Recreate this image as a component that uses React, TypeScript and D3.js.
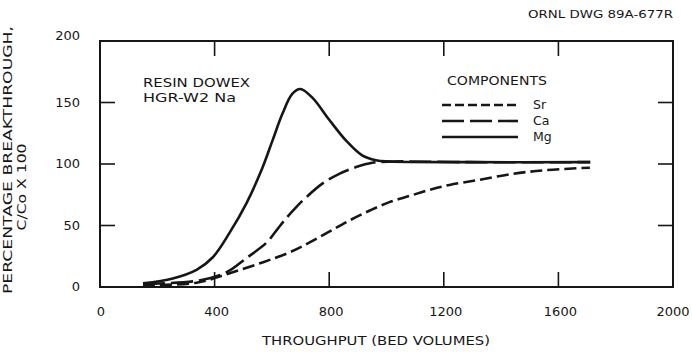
import React, { useEffect, useRef } from 'react';
import * as d3 from 'd3';

// throughput (bed volumes) -> C/Co x 100
const mgX = [150, 254, 337, 393, 452, 511, 567, 602, 637, 671, 699, 741, 800, 859, 915, 963, 1009, 1290, 1711];
const mgY = [3, 7, 14, 24, 44, 68, 97, 119, 141, 157, 161, 154, 136, 119, 107, 103, 102, 101.5, 101.5];

const caX = [150, 337, 442, 511, 581, 616, 650, 685, 720, 776, 835, 894, 950, 1016, 1290, 1711];
const caY = [2.5, 5, 12, 23.5, 36, 46, 56, 65, 73, 84, 92, 97.5, 101, 102, 101.5, 101.5];

const srX = [150, 337, 450, 567, 660, 730, 800, 870, 940, 1010, 1080, 1150, 1220, 1320, 1440, 1555, 1710];
const srY = [1.5, 3.5, 11, 20, 28, 36, 45, 54, 62, 69, 74, 79, 83, 87, 92, 95, 97];

const xTicks = [0, 400, 800, 1200, 1600, 2000];
const yTicks = [0, 50, 100, 150, 200];

const components = ['Sr', 'Ca', 'Mg'];
const dashes = { Sr: '12,5', Ca: '22,6', Mg: null };

const ink = '#161616';
const font = "'DejaVu Sans', sans-serif";

const App = () => {
    const ref = useRef(null);

    useEffect(() => {
        const width = 692;
        const height = 352;
        const svg = d3.select(ref.current);
        svg.selectAll('*').remove();

        const x = d3.scaleLinear().domain([0, 2000]).range([100, 673]);
        const y = d3.scaleLinear().domain([0, 200]).range([287, 41]);

        svg.append('rect').attr('width', width).attr('height', height).attr('fill', '#fff');

        // frame
        svg.append('rect')
            .attr('x', x(0))
            .attr('y', y(200))
            .attr('width', x(2000) - x(0))
            .attr('height', y(0) - y(200))
            .attr('fill', 'none')
            .attr('stroke', ink)
            .attr('stroke-width', 2);

        // inward ticks on all four sides
        const tk = 15;
        const inner = xTicks.slice(1, -1);
        const g = svg.append('g').attr('stroke', ink).attr('stroke-width', 1.6);
        inner.forEach(v => {
            g.append('line').attr('x1', x(v)).attr('x2', x(v)).attr('y1', y(0)).attr('y2', y(0) - tk);
            g.append('line').attr('x1', x(v)).attr('x2', x(v)).attr('y1', y(200)).attr('y2', y(200) + tk);
        });
        yTicks.slice(1, -1).forEach(v => {
            g.append('line').attr('x1', x(0)).attr('x2', x(0) + tk).attr('y1', y(v)).attr('y2', y(v));
            g.append('line').attr('x1', x(2000)).attr('x2', x(2000) - tk).attr('y1', y(v)).attr('y2', y(v));
        });

        const txt = svg.append('g').attr('fill', ink).style('font-family', font);

        txt.selectAll('.xl')
            .data(xTicks)
            .enter()
            .append('text')
            .attr('x', d => x(d) + (d === 0 ? 1 : d === 2000 ? 0 : 2))
            .attr('y', 316)
            .attr('text-anchor', 'middle')
            .style('font-size', '13px')
            .text(d => d);

        txt.selectAll('.yl')
            .data(yTicks)
            .enter()
            .append('text')
            .attr('x', 80)
            .attr('y', d => y(d) + (d === 200 ? -1 : 4))
            .attr('text-anchor', 'end')
            .style('font-size', '13px')
            .text(d => d);

        txt.append('text')
            .attr('x', 376)
            .attr('y', 345)
            .attr('text-anchor', 'middle')
            .attr('textLength', 228)
            .attr('lengthAdjust', 'spacingAndGlyphs')
            .style('font-size', '12.5px')
            .text('THROUGHPUT (BED VOLUMES)');

        txt.append('text')
            .attr('transform', 'translate(12,160) rotate(-90)')
            .attr('text-anchor', 'middle')
            .attr('textLength', 268)
            .attr('lengthAdjust', 'spacingAndGlyphs')
            .style('font-size', '12px')
            .text('PERCENTAGE BREAKTHROUGH,');

        txt.append('text')
            .attr('transform', 'translate(26,187) rotate(-90)')
            .attr('text-anchor', 'middle')
            .attr('textLength', 87)
            .attr('lengthAdjust', 'spacingAndGlyphs')
            .style('font-size', '12.5px')
            .text('C/Co X 100');

        txt.append('text')
            .attr('x', 528)
            .attr('y', 18)
            .attr('textLength', 145)
            .attr('lengthAdjust', 'spacingAndGlyphs')
            .style('font-size', '10.5px')
            .text('ORNL DWG 89A-677R');

        txt.append('text')
            .attr('x', 143)
            .attr('y', 87)
            .attr('textLength', 107)
            .attr('lengthAdjust', 'spacingAndGlyphs')
            .style('font-size', '13px')
            .text('RESIN DOWEX');
        txt.append('text')
            .attr('x', 143)
            .attr('y', 102)
            .attr('textLength', 93)
            .attr('lengthAdjust', 'spacingAndGlyphs')
            .style('font-size', '13px')
            .text('HGR-W2 Na');

        // curves
        const series = {
            Sr: d3.zip(srX, srY),
            Ca: d3.zip(caX, caY),
            Mg: d3.zip(mgX, mgY),
        };
        const line = d3
            .line()
            .x(d => x(d[0]))
            .y(d => y(d[1]))
            .curve(d3.curveCatmullRom.alpha(0.5));

        components.forEach(c => {
            svg.append('path')
                .attr('d', line(series[c]))
                .attr('fill', 'none')
                .attr('stroke', ink)
                .attr('stroke-width', 2.6)
                .attr('stroke-dasharray', dashes[c]);
        });

        // legend
        txt.append('text')
            .attr('x', 447)
            .attr('y', 85)
            .attr('textLength', 100)
            .attr('lengthAdjust', 'spacingAndGlyphs')
            .style('font-size', '12.5px')
            .text('COMPONENTS');
        const lg = svg.append('g').style('font-family', font);
        components.forEach((c, i) => {
            const ly = 105 + i * 16;
            lg.append('line')
                .attr('x1', 442)
                .attr('x2', 518)
                .attr('y1', ly)
                .attr('y2', ly)
                .attr('stroke', ink)
                .attr('stroke-width', 2.6)
                .attr('stroke-dasharray', c === 'Sr' ? '9,4' : dashes[c]);
            lg.append('text')
                .attr('x', 533)
                .attr('y', ly + 4)
                .attr('fill', ink)
                .style('font-size', '12.5px')
                .text(c);
        });
    }, []);

    return (
        <svg
            ref={ref}
            width={692}
            height={352}
            style={{ position: 'absolute', left: 0, top: 0 }}
        />
    );
};

export default App;
